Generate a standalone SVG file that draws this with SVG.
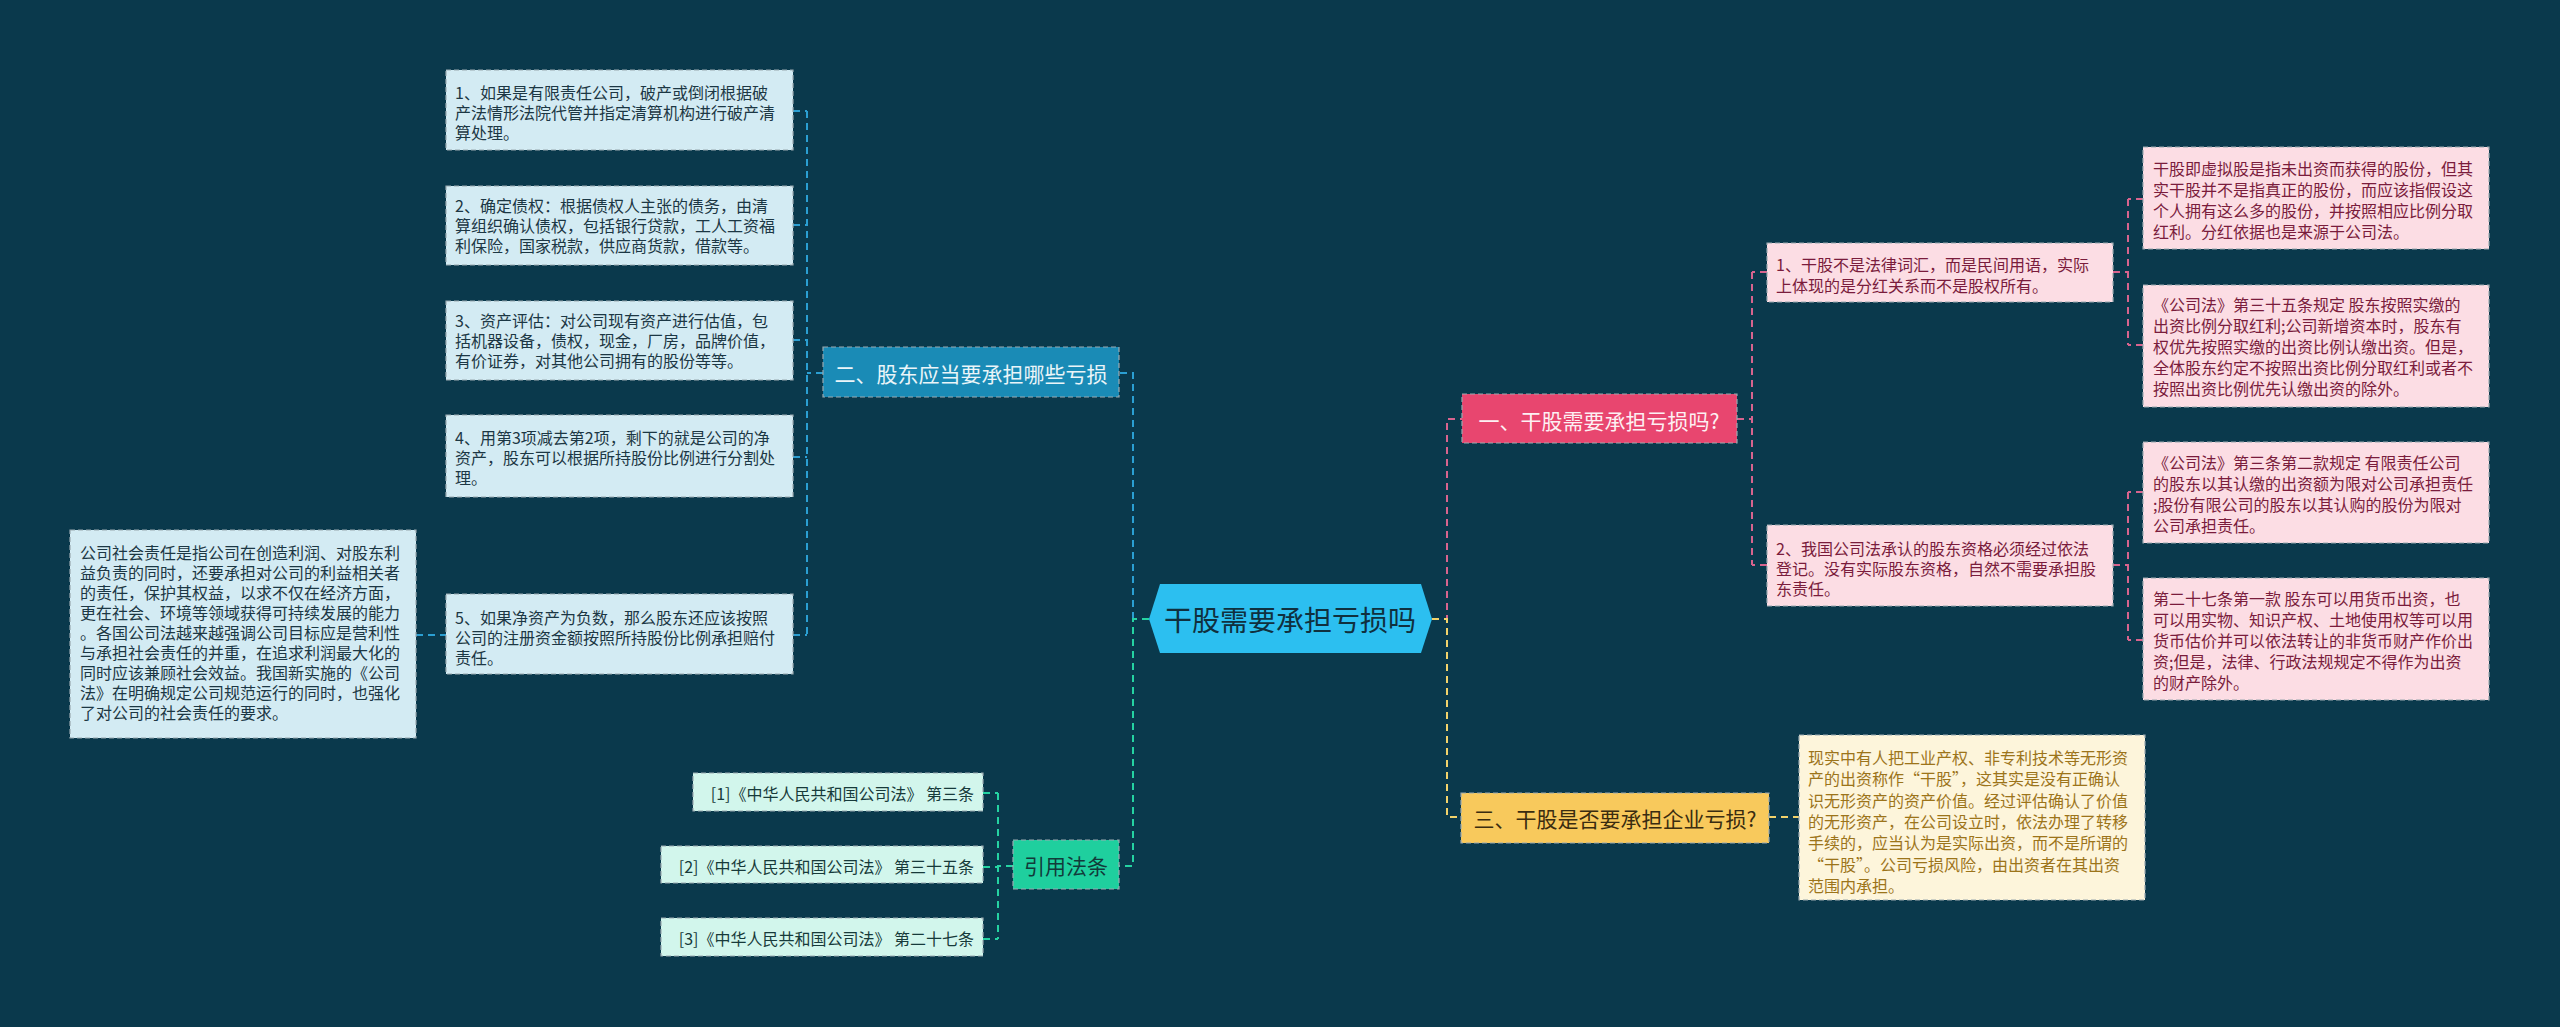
<svg xmlns="http://www.w3.org/2000/svg" width="2560" height="1027" viewBox="0 0 2560 1027">
<style>
text{font-family:"Noto Sans CJK SC","Noto Sans",sans-serif;dominant-baseline:central}
.c{fill:none;stroke-width:2;stroke-dasharray:7,5}
.cb{stroke:#2b9fd2}.cg{stroke:#25d3a2}.cp{stroke:#d8648e}.cy{stroke:#f2d36b}
.bx{stroke:#9aa9b0;stroke-width:1.2;stroke-dasharray:5,3}
.lb{fill:#d3ebf3}.lt{fill:#1c3744;font-size:16px}
.pb{fill:#fcdde4}.pt{fill:#7a1c3c;font-size:16px}
.gb{fill:#d2f6ec}.gt{fill:#173a3a;font-size:16px}
.yb{fill:#fdf5db}.yt{fill:#9c741a;font-size:16px}
</style>
<rect width="2560" height="1027" fill="#0a394c"/>
<g id="connectors">
<path class="c cb" d="M1133,619 V373 H1119"/>
<path class="c cb" d="M823,373 H807 M807,111 V635 M793,111 H807 M793,225 H807 M793,340 H807 M793,457 H807 M793,635 H807 M416,635 H446"/>
<path class="c cg" d="M1149,619 H1133 V866 H1119"/>
<path class="c cg" d="M1013,866 H998 M998,793 V939 M983,793 H998 M983,867 H998 M983,939 H998"/>
<path class="c cp" d="M1432,619 H1447 V419 H1462"/>
<path class="c cp" d="M1737,419 H1752 M1752,272 V565 M1767,272 H1752 M1767,565 H1752"/>
<path class="c cp" d="M2113,272 H2128 M2128,199 V345 M2143,199 H2128 M2143,345 H2128"/>
<path class="c cp" d="M2113,565 H2128 M2128,492 V640 M2143,492 H2128 M2143,640 H2128"/>
<path class="c cy" d="M1432,619 H1447 V817 H1461 M1769,817 H1799"/>
</g>
<g id="center">
<polygon points="1149,619 1160,584 1421,584 1432,619 1421,653 1160,653" fill="#2cbff0"/>
<text x="1290" y="619" text-anchor="middle" font-size="28" fill="#10303e">干股需要承担亏损吗</text>
</g>
<g id="n2">
<rect x="823" y="347" width="296" height="50" fill="#1a8bb6" class="bx" stroke="#4fb3d8"/>
<text x="971" y="373" text-anchor="middle" font-size="21" fill="#eaf5f9">二、股东应当要承担哪些亏损</text>
</g>
<g id="l1"><rect class="lb bx" x="446" y="70" width="347" height="80"/>
<text class="lt" x="455" y="92"><tspan>1、如果是有限责任公司，破产或倒闭根据破</tspan><tspan x="455" dy="20">产法情形法院代管并指定清算机构进行破产清</tspan><tspan x="455" dy="20">算处理。</tspan></text></g>
<g id="l2"><rect class="lb bx" x="446" y="186" width="347" height="79"/>
<text class="lt" x="455" y="205"><tspan>2、确定债权：根据债权人主张的债务，由清</tspan><tspan x="455" dy="20">算组织确认债权，包括银行贷款，工人工资福</tspan><tspan x="455" dy="20">利保险，国家税款，供应商货款，借款等。</tspan></text></g>
<g id="l3"><rect class="lb bx" x="446" y="301" width="347" height="79"/>
<text class="lt" x="455" y="320"><tspan>3、资产评估：对公司现有资产进行估值，包</tspan><tspan x="455" dy="20">括机器设备，债权，现金，厂房，品牌价值，</tspan><tspan x="455" dy="20">有价证券，对其他公司拥有的股份等等。</tspan></text></g>
<g id="l4"><rect class="lb bx" x="446" y="415" width="347" height="82"/>
<text class="lt" x="455" y="437"><tspan>4、用第3项减去第2项，剩下的就是公司的净</tspan><tspan x="455" dy="20">资产，股东可以根据所持股份比例进行分割处</tspan><tspan x="455" dy="20">理。</tspan></text></g>
<g id="l5"><rect class="lb bx" x="446" y="594" width="347" height="80"/>
<text class="lt" x="455" y="617"><tspan>5、如果净资产为负数，那么股东还应该按照</tspan><tspan x="455" dy="20">公司的注册资金额按照所持股份比例承担赔付</tspan><tspan x="455" dy="20">责任。</tspan></text></g>
<g id="l5a"><rect class="lb bx" x="70" y="530" width="346" height="208"/>
<text class="lt" x="80" y="552"><tspan>公司社会责任是指公司在创造利润、对股东利</tspan><tspan x="80" dy="20">益负责的同时，还要承担对公司的利益相关者</tspan><tspan x="80" dy="20">的责任，保护其权益，以求不仅在经济方面，</tspan><tspan x="80" dy="20">更在社会、环境等领域获得可持续发展的能力</tspan><tspan x="80" dy="20">。各国公司法越来越强调公司目标应是营利性</tspan><tspan x="80" dy="20">与承担社会责任的并重，在追求利润最大化的</tspan><tspan x="80" dy="20">同时应该兼顾社会效益。我国新实施的《公司</tspan><tspan x="80" dy="20">法》在明确规定公司规范运行的同时，也强化</tspan><tspan x="80" dy="20">了对公司的社会责任的要求。</tspan></text></g>
<g id="law">
<rect x="1013" y="840" width="106" height="49" fill="#1fcf9e" class="bx" stroke="#5fe0bc"/>
<text x="1066" y="865" text-anchor="middle" font-size="21" fill="#123a3a">引用法条</text>
</g>
<g id="r1"><rect class="gb bx" x="693" y="773" width="290" height="38"/>
<text class="gt" x="974" y="793" text-anchor="end">[1]《中华人民共和国公司法》 第三条</text></g>
<g id="r2"><rect class="gb bx" x="661" y="846" width="322" height="37"/>
<text class="gt" x="974" y="866" text-anchor="end">[2]《中华人民共和国公司法》 第三十五条</text></g>
<g id="r3"><rect class="gb bx" x="661" y="918" width="322" height="38"/>
<text class="gt" x="974" y="938" text-anchor="end">[3]《中华人民共和国公司法》 第二十七条</text></g>
<g id="n1">
<rect x="1462" y="394" width="275" height="49" fill="#e8466f" class="bx" stroke="#f07f9c"/>
<text x="1599" y="420" text-anchor="middle" font-size="21" fill="#fdf0f3">一、干股需要承担亏损吗?</text>
</g>
<g id="p1"><rect class="pb bx" x="1767" y="243" width="346" height="59"/>
<text class="pt" x="1776" y="264"><tspan>1、干股不是法律词汇，而是民间用语，实际</tspan><tspan x="1776" dy="21">上体现的是分红关系而不是股权所有。</tspan></text></g>
<g id="p2"><rect class="pb bx" x="1767" y="525" width="346" height="81"/>
<text class="pt" x="1776" y="548"><tspan>2、我国公司法承认的股东资格必须经过依法</tspan><tspan x="1776" dy="20">登记。没有实际股东资格，自然不需要承担股</tspan><tspan x="1776" dy="20">东责任。</tspan></text></g>
<g id="p1a"><rect class="pb bx" x="2143" y="147" width="346" height="102"/>
<text class="pt" x="2153" y="168"><tspan>干股即虚拟股是指未出资而获得的股份，但其</tspan><tspan x="2153" dy="21">实干股并不是指真正的股份，而应该指假设这</tspan><tspan x="2153" dy="21">个人拥有这么多的股份，并按照相应比例分取</tspan><tspan x="2153" dy="21">红利。分红依据也是来源于公司法。</tspan></text></g>
<g id="p1b"><rect class="pb bx" x="2143" y="285" width="346" height="122"/>
<text class="pt" x="2153" y="304"><tspan>《公司法》第三十五条规定 股东按照实缴的</tspan><tspan x="2153" dy="21">出资比例分取红利;公司新增资本时，股东有</tspan><tspan x="2153" dy="21">权优先按照实缴的出资比例认缴出资。但是，</tspan><tspan x="2153" dy="21">全体股东约定不按照出资比例分取红利或者不</tspan><tspan x="2153" dy="21">按照出资比例优先认缴出资的除外。</tspan></text></g>
<g id="p2a"><rect class="pb bx" x="2143" y="442" width="346" height="101"/>
<text class="pt" x="2153" y="462"><tspan>《公司法》第三条第二款规定 有限责任公司</tspan><tspan x="2153" dy="21">的股东以其认缴的出资额为限对公司承担责任</tspan><tspan x="2153" dy="21">;股份有限公司的股东以其认购的股份为限对</tspan><tspan x="2153" dy="21">公司承担责任。</tspan></text></g>
<g id="p2b"><rect class="pb bx" x="2143" y="578" width="346" height="122"/>
<text class="pt" x="2153" y="598"><tspan>第二十七条第一款 股东可以用货币出资，也</tspan><tspan x="2153" dy="21">可以用实物、知识产权、土地使用权等可以用</tspan><tspan x="2153" dy="21">货币估价并可以依法转让的非货币财产作价出</tspan><tspan x="2153" dy="21">资;但是，法律、行政法规规定不得作为出资</tspan><tspan x="2153" dy="21">的财产除外。</tspan></text></g>
<g id="n3">
<rect x="1461" y="793" width="308" height="50" fill="#f8c95c" class="bx" stroke="#fbe09a"/>
<text x="1615" y="818" text-anchor="middle" font-size="21" fill="#3a2c10">三、干股是否要承担企业亏损?</text>
</g>
<g id="y1"><rect class="yb bx" x="1799" y="735" width="346" height="165"/>
<text class="yt" x="1808" y="757"><tspan>现实中有人把工业产权、非专利技术等无形资</tspan><tspan x="1808" dy="21.3">产的出资称作“干股”，这其实是没有正确认</tspan><tspan x="1808" dy="21.3">识无形资产的资产价值。经过评估确认了价值</tspan><tspan x="1808" dy="21.3">的无形资产，在公司设立时，依法办理了转移</tspan><tspan x="1808" dy="21.3">手续的，应当认为是实际出资，而不是所谓的</tspan><tspan x="1808" dy="21.3">“干股”。公司亏损风险，由出资者在其出资</tspan><tspan x="1808" dy="21.3">范围内承担。</tspan></text></g>
</svg>
